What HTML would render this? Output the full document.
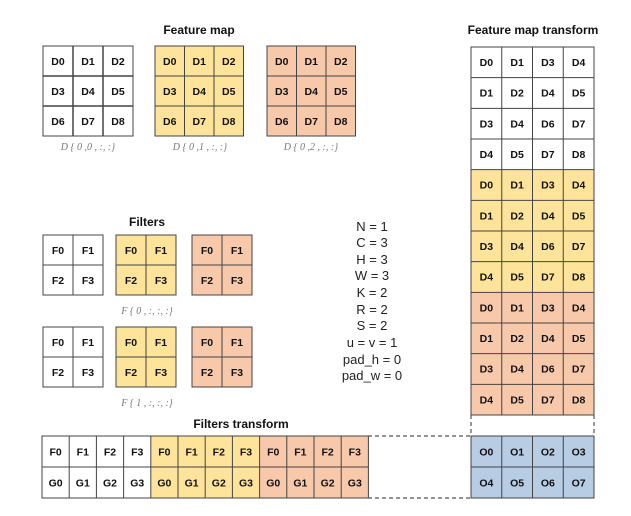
<!DOCTYPE html>
<html><head><style>body{margin:0;background:#fff}svg{display:block}</style></head><body>
<svg width="631" height="516" xmlns="http://www.w3.org/2000/svg" font-family="Liberation Sans, sans-serif">
<style>.c{font-weight:bold;font-size:10.5px;text-anchor:middle;fill:#111}.t{font-weight:bold;font-size:12px;text-anchor:middle;fill:#111}.l{font-family:'Liberation Serif',serif;font-style:italic;font-size:10px;fill:#777;text-anchor:middle}.p{font-size:13px;text-anchor:middle;fill:#222}</style>
<text class="t" x="199" y="34">Feature map</text>
<text class="t" x="533" y="34">Feature map transform</text>
<text class="t" x="147" y="226">Filters</text>
<text class="t" x="241" y="428">Filters transform</text>
<text class="l" x="88" y="150">D { 0 ,0 , :, :}</text>
<text class="l" x="200" y="150">D { 0 ,1 , :, :}</text>
<text class="l" x="311" y="150">D { 0 ,2 , :, :}</text>
<text class="l" x="147" y="314">F { 0 , :, :, :}</text>
<text class="l" x="147" y="406">F { 1 , :, :, :}</text>
<g class="p"><text x="372" y="231">N = 1</text><text x="372" y="247">C = 3</text><text x="372" y="264">H = 3</text><text x="372" y="280">W = 3</text><text x="372" y="297">K = 2</text><text x="372" y="314">R = 2</text><text x="372" y="330">S = 2</text><text x="372" y="347">u = v = 1</text><text x="372" y="364">pad_h = 0</text><text x="372" y="380">pad_w = 0</text></g>

<!-- backgrounds -->
<rect x="43" y="46" width="90" height="90" fill="#fff"/>
<rect x="155" y="46" width="88.5" height="90" fill="#fde49a"/>
<rect x="267" y="46" width="88.5" height="90" fill="#f8c8ab"/>
<rect x="43" y="235" width="60" height="60" fill="#fff"/>
<rect x="116" y="235" width="60" height="60" fill="#fde49a"/>
<rect x="192" y="235" width="60" height="60" fill="#f8c8ab"/>
<rect x="43" y="327" width="60" height="60" fill="#fff"/>
<rect x="116" y="327" width="60" height="60" fill="#fde49a"/>
<rect x="192" y="327" width="60" height="60" fill="#f8c8ab"/>
<rect x="471" y="47" width="123" height="122.67" fill="#fff"/>
<rect x="471" y="169.67" width="123" height="122.67" fill="#fde49a"/>
<rect x="471" y="292.33" width="123" height="122.67" fill="#f8c8ab"/>
<rect x="471" y="436" width="123" height="62" fill="#b8cce4"/>
<rect x="42" y="436" width="108.8" height="62" fill="#fff"/>
<rect x="150.8" y="436" width="108.8" height="62" fill="#fde49a"/>
<rect x="259.6" y="436" width="108.8" height="62" fill="#f8c8ab"/>

<!-- grid lines -->
<g stroke="#444" stroke-width="1" fill="none">
<rect x="43" y="46" width="90" height="90"/><path d="M73 46V136M103 46V136M43 76H133M43 106H133" stroke-width="1.5"/>
<rect x="155" y="46" width="88.5" height="90"/><path d="M184.5 46V136M214 46V136M155 76H243.5M155 106H243.5"/>
<rect x="267" y="46" width="88.5" height="90"/><path d="M296.5 46V136M326 46V136M267 76H355.5M267 106H355.5"/>
<rect x="43" y="235" width="60" height="60"/><path d="M73 235V295M43 265H103"/>
<rect x="116" y="235" width="60" height="60"/><path d="M146 235V295M116 265H176"/>
<rect x="192" y="235" width="60" height="60"/><path d="M222 235V295M192 265H252"/>
<rect x="43" y="327" width="60" height="60"/><path d="M73 327V387M43 357H103"/>
<rect x="116" y="327" width="60" height="60"/><path d="M146 327V387M116 357H176"/>
<rect x="192" y="327" width="60" height="60"/><path d="M222 327V387M192 357H252"/>
<rect x="471" y="47" width="123" height="368"/>
<path d="M501.75 47V415M532.5 47V415M563.25 47V415M471 77.67H594M471 108.33H594M471 139H594M471 169.67H594M471 200.33H594M471 231H594M471 261.67H594M471 292.33H594M471 323H594M471 353.67H594M471 384.33H594"/>
<rect x="471" y="436" width="123" height="62"/>
<path d="M501.75 436V498M532.5 436V498M563.25 436V498M471 467H594"/>
<rect x="42" y="436" width="326.4" height="62"/>
<path d="M69.2 436V498M96.4 436V498M123.6 436V498M150.8 436V498M178 436V498M205.2 436V498M232.4 436V498M259.6 436V498M286.8 436V498M314 436V498M341.2 436V498M42 467H368.4"/>
</g>
<g stroke="#555" stroke-width="1.2" stroke-dasharray="4,3" fill="none">
<line x1="368" y1="436" x2="471" y2="436"/><line x1="368" y1="498" x2="471" y2="498"/>
<line x1="471" y1="415" x2="471" y2="436"/><line x1="594" y1="415" x2="594" y2="436"/>
</g>

<g class="c">
<text x="58" y="65">D0</text><text x="88" y="65">D1</text><text x="118" y="65">D2</text>
<text x="58" y="95">D3</text><text x="88" y="95">D4</text><text x="118" y="95">D5</text>
<text x="58" y="125">D6</text><text x="88" y="125">D7</text><text x="118" y="125">D8</text>
<text x="169.75" y="65">D0</text><text x="199.25" y="65">D1</text><text x="228.75" y="65">D2</text>
<text x="169.75" y="95">D3</text><text x="199.25" y="95">D4</text><text x="228.75" y="95">D5</text>
<text x="169.75" y="125">D6</text><text x="199.25" y="125">D7</text><text x="228.75" y="125">D8</text>
<text x="281.75" y="65">D0</text><text x="311.25" y="65">D1</text><text x="340.75" y="65">D2</text>
<text x="281.75" y="95">D3</text><text x="311.25" y="95">D4</text><text x="340.75" y="95">D5</text>
<text x="281.75" y="125">D6</text><text x="311.25" y="125">D7</text><text x="340.75" y="125">D8</text>

<text x="58" y="254">F0</text><text x="88" y="254">F1</text><text x="58" y="284">F2</text><text x="88" y="284">F3</text>
<text x="131" y="254">F0</text><text x="161" y="254">F1</text><text x="131" y="284">F2</text><text x="161" y="284">F3</text>
<text x="207" y="254">F0</text><text x="237" y="254">F1</text><text x="207" y="284">F2</text><text x="237" y="284">F3</text>
<text x="58" y="346">F0</text><text x="88" y="346">F1</text><text x="58" y="376">F2</text><text x="88" y="376">F3</text>
<text x="131" y="346">F0</text><text x="161" y="346">F1</text><text x="131" y="376">F2</text><text x="161" y="376">F3</text>
<text x="207" y="346">F0</text><text x="237" y="346">F1</text><text x="207" y="376">F2</text><text x="237" y="376">F3</text>

<text x="486.4" y="66">D0</text><text x="517.1" y="66">D1</text><text x="547.9" y="66">D3</text><text x="578.6" y="66">D4</text>
<text x="486.4" y="96.7">D1</text><text x="517.1" y="96.7">D2</text><text x="547.9" y="96.7">D4</text><text x="578.6" y="96.7">D5</text>
<text x="486.4" y="127.3">D3</text><text x="517.1" y="127.3">D4</text><text x="547.9" y="127.3">D6</text><text x="578.6" y="127.3">D7</text>
<text x="486.4" y="158">D4</text><text x="517.1" y="158">D5</text><text x="547.9" y="158">D7</text><text x="578.6" y="158">D8</text>
<text x="486.4" y="188.7">D0</text><text x="517.1" y="188.7">D1</text><text x="547.9" y="188.7">D3</text><text x="578.6" y="188.7">D4</text>
<text x="486.4" y="219.3">D1</text><text x="517.1" y="219.3">D2</text><text x="547.9" y="219.3">D4</text><text x="578.6" y="219.3">D5</text>
<text x="486.4" y="250">D3</text><text x="517.1" y="250">D4</text><text x="547.9" y="250">D6</text><text x="578.6" y="250">D7</text>
<text x="486.4" y="280.7">D4</text><text x="517.1" y="280.7">D5</text><text x="547.9" y="280.7">D7</text><text x="578.6" y="280.7">D8</text>
<text x="486.4" y="311.3">D0</text><text x="517.1" y="311.3">D1</text><text x="547.9" y="311.3">D3</text><text x="578.6" y="311.3">D4</text>
<text x="486.4" y="342">D1</text><text x="517.1" y="342">D2</text><text x="547.9" y="342">D4</text><text x="578.6" y="342">D5</text>
<text x="486.4" y="372.7">D3</text><text x="517.1" y="372.7">D4</text><text x="547.9" y="372.7">D6</text><text x="578.6" y="372.7">D7</text>
<text x="486.4" y="403.3">D4</text><text x="517.1" y="403.3">D5</text><text x="547.9" y="403.3">D7</text><text x="578.6" y="403.3">D8</text>

<text x="486.4" y="455.5">O0</text><text x="517.1" y="455.5">O1</text><text x="547.9" y="455.5">O2</text><text x="578.6" y="455.5">O3</text>
<text x="486.4" y="486.5">O4</text><text x="517.1" y="486.5">O5</text><text x="547.9" y="486.5">O6</text><text x="578.6" y="486.5">O7</text>

<text x="55.6" y="455.5">F0</text><text x="82.8" y="455.5">F1</text><text x="110" y="455.5">F2</text><text x="137.2" y="455.5">F3</text>
<text x="164.4" y="455.5">F0</text><text x="191.6" y="455.5">F1</text><text x="218.8" y="455.5">F2</text><text x="246" y="455.5">F3</text>
<text x="273.2" y="455.5">F0</text><text x="300.4" y="455.5">F1</text><text x="327.6" y="455.5">F2</text><text x="354.8" y="455.5">F3</text>
<text x="55.6" y="486.5">G0</text><text x="82.8" y="486.5">G1</text><text x="110" y="486.5">G2</text><text x="137.2" y="486.5">G3</text>
<text x="164.4" y="486.5">G0</text><text x="191.6" y="486.5">G1</text><text x="218.8" y="486.5">G2</text><text x="246" y="486.5">G3</text>
<text x="273.2" y="486.5">G0</text><text x="300.4" y="486.5">G1</text><text x="327.6" y="486.5">G2</text><text x="354.8" y="486.5">G3</text>
</g>
</svg>
</body></html>
